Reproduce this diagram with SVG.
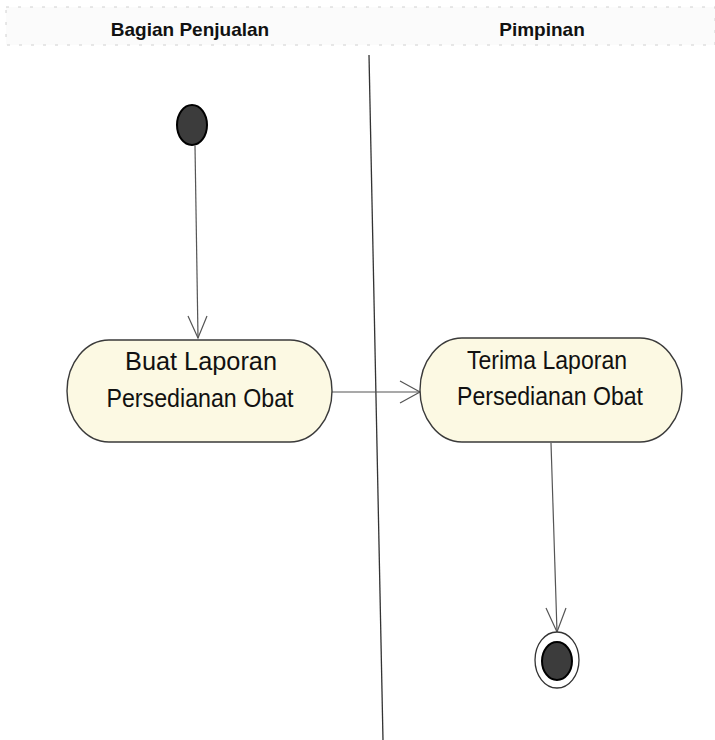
<svg xmlns="http://www.w3.org/2000/svg" width="715" height="740" viewBox="0 0 715 740">
<defs>
<style>
.hdr{font-family:"Liberation Sans",Arial,sans-serif;font-weight:bold;font-size:19px;fill:#111;text-anchor:middle}
.lbl{font-family:"Liberation Sans",Arial,sans-serif;font-size:26px;fill:#111;text-anchor:middle}
.act{fill:#fcf9e3;stroke:#3a3a3a;stroke-width:1.4}
.edge{fill:none;stroke:#555;stroke-width:1.2}
.head{fill:none;stroke:#555;stroke-width:1.2}
</style>
</defs>
<rect width="715" height="740" fill="#ffffff"/>
<g id="header">
<rect x="6" y="7" width="709" height="38" fill="#fbfbfb" stroke="#d0d0d0" stroke-width="1" stroke-dasharray="3 9"/>
<text class="hdr" x="190" y="36">Bagian Penjualan</text>
<text class="hdr" x="542" y="36">Pimpinan</text>
</g>
<g id="swimlane-divider">
<line x1="369" y1="55" x2="383" y2="740" stroke="#333" stroke-width="1.3"/>
</g>
<g id="connectors">
<line class="edge" x1="195" y1="146" x2="198" y2="338"/>
<polyline class="head" points="188,316 198,338 207,316"/>
<line class="edge" x1="332" y1="392" x2="420" y2="392"/>
<polyline class="head" points="400,381 420,392 400,403"/>
<line class="edge" x1="551" y1="443" x2="557" y2="632"/>
<polyline class="head" points="546,608 557,632 566,608"/>
</g>
<g id="start">
<ellipse cx="192" cy="125" rx="15" ry="20" fill="#3c3c3c" stroke="#000" stroke-width="2"/>
</g>
<g id="buat-laporan">
<rect class="act" x="67" y="340" width="265" height="102" rx="42" ry="51"/>
<text class="lbl" x="201" y="370" textLength="152" lengthAdjust="spacingAndGlyphs">Buat Laporan</text>
<text class="lbl" x="200" y="407" textLength="187" lengthAdjust="spacingAndGlyphs">Persedianan Obat</text>
</g>
<g id="terima-laporan">
<rect class="act" x="420" y="338" width="262" height="104" rx="42" ry="52"/>
<text class="lbl" x="547" y="369" textLength="160" lengthAdjust="spacingAndGlyphs">Terima Laporan</text>
<text class="lbl" x="550" y="405" textLength="186" lengthAdjust="spacingAndGlyphs">Persedianan Obat</text>
</g>
<g id="end">
<ellipse cx="557" cy="660" rx="22" ry="28" fill="#fff" stroke="#333" stroke-width="1.3"/>
<ellipse cx="557" cy="661" rx="15" ry="19" fill="#3c3c3c" stroke="#000" stroke-width="2"/>
</g>
</svg>
